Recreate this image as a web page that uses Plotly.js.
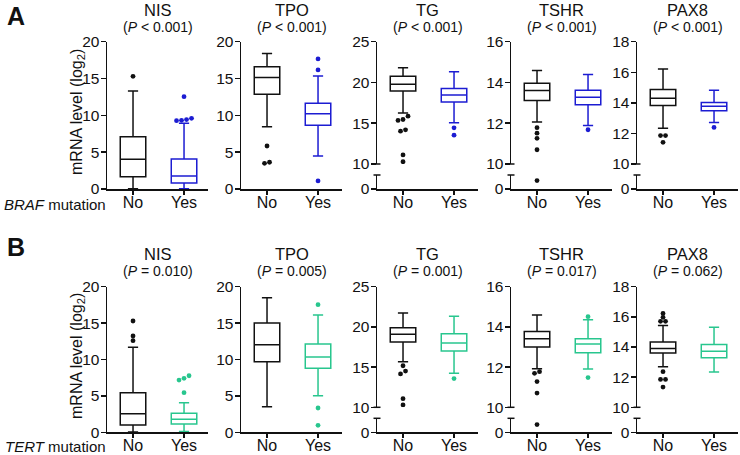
<!DOCTYPE html>
<html>
<head>
<meta charset="utf-8">
<script src="https://cdn.plot.ly/plotly-3.0.1.min.js"></script>
<style>
  body { margin: 0; background: #fff; }
  #chart { width: 740px; height: 455px; }
</style>
</head>
<body>
<div id="chart"></div>
<script>
const genes = ["NIS", "TPO", "TG", "TSHR", "PAX8"];
const groups = ["No", "Yes"];
const rowLetters = ["A", "B"];
const mutations = ["BRAF", "TERT"];

const brafP = ["(<i>P</i> &lt; 0.001)", "(<i>P</i> &lt; 0.001)", "(<i>P</i> &lt; 0.001)", "(<i>P</i> &lt; 0.001)", "(<i>P</i> &lt; 0.001)"];
const tertP = ["(<i>P</i> = 0.010)", "(<i>P</i> = 0.005)", "(<i>P</i> = 0.001)", "(<i>P</i> = 0.017)", "(<i>P</i> = 0.062)"];

// y axis per gene (upper part for broken axes)
const yMin = [0, 0, 10, 10, 10];
const yMax = [20, 20, 25, 16, 18];
const yStep = [5, 5, 5, 2, 2];
const broken = [false, false, true, true, true];

// box stats, [No, Yes] for each gene
const brafLow = [[0.05, 0.05], [8.46, 4.48], [16.24, 15.05], [12.06, 11.89], [12.34, 12.72]];
const brafQ1 = [[1.67, 0.81], [12.85, 8.65], [18.95, 17.6], [13.12, 12.91], [13.82, 13.49]];
const brafMed = [[4.03, 1.76], [15.15, 10.23], [19.78, 18.46], [13.6, 13.27], [14.3, 13.77]];
const brafQ3 = [[7.1, 4.07], [16.6, 11.64], [20.76, 19.25], [13.96, 13.62], [14.87, 14.03]];
const brafHigh = [[13.3, 8.93], [18.4, 15.35], [21.79, 21.3], [14.59, 14.39], [16.22, 14.82]];
const brafOutNo = [[15.3], [5.84, 3.63, 3.49], [15.87, 15.46, 15.34, 14.19, 14.02, 11.11, 10.28], [11.78, 11.51, 11.26, 10.7, 6], [11.86, 11.86, 11.42]];
const brafOutYes = [[12.54, 9.6, 9.42, 9.33, 9.28], [17.66, 16.17, 1.09], [14.44, 13.53], [11.68], [12.39]];

const tertLow = [[0.05, 0.1], [3.52, 5.03], [15.66, 14.23], [11.92, 11.9], [12.69, 12.34]];
const tertQ1 = [[1.0, 1.14], [9.7, 8.79], [18.12, 17.01], [13.0, 12.72], [13.6, 13.28]];
const tertMed = [[2.56, 1.79], [12.03, 10.34], [19.1, 18.0], [13.41, 13.15], [13.9, 13.72]];
const tertQ3 = [[5.44, 2.61], [15.01, 12.13], [19.89, 19.15], [13.77, 13.41], [14.33, 14.16]];
const tertHigh = [[11.68, 4.07], [18.49, 16.11], [21.73, 21.32], [14.59, 14.36], [15.42, 15.31]];
const tertOutNo = [[15.29, 13.23, 12.58], [], [15.17, 14.51, 14.15, 11.07, 10.3], [11.77, 11.69, 11.28, 10.71, 5.5], [16.23, 15.97, 15.7, 15.7, 12.36, 11.85, 11.85, 11.34]];
const tertOutYes = [[7.77, 7.42, 7.18, 5.44], [17.53, 3.34, 0.96], [13.57], [14.51, 11.48], []];

const rowData = [
  { low: brafLow, q1: brafQ1, med: brafMed, q3: brafQ3, high: brafHigh, out: [brafOutNo, brafOutYes], p: brafP, color: "#1c1cd2" },
  { low: tertLow, q1: tertQ1, med: tertMed, q3: tertQ3, high: tertHigh, out: [tertOutNo, tertOutYes], p: tertP, color: "#28c68e" }
];

// layout in pixels
const W = 740, H = 455;
const axisX = [107, 241, 377, 511, 637];
const axisLen = 101;
const rowTop = [41.7, 286.7];
const rowZero = [189, 432.3];
const lowSeg = 14, gap = 11;
const xRange = [-0.51, 1.47];
const dotStep = 5 / (axisLen / (xRange[1] - xRange[0]));
const FONT = "Liberation Sans, Arial, sans-serif";
const INK = "#111";

function ref(letter, n) { return n === 1 ? letter : letter + n; }
function axKey(letter, n) { return n === 1 ? letter + "axis" : letter + "axis" + n; }
function py(px) { return 1 - px / H; }

// spread dots that sit at the same level side by side
function dodge(vals, pxPerUnit) {
  const order = vals.map((v, i) => i).sort((a, b) => vals[a] - vals[b]);
  const offs = new Array(vals.length).fill(0);
  let i = 0;
  while (i < order.length) {
    let j = i + 1;
    while (j < order.length && (vals[order[j]] - vals[order[j - 1]]) * pxPerUnit < 3.5) j++;
    const n = j - i;
    for (let m = 0; m < n; m++) offs[order[i + m]] = (m - (n - 1) / 2) * dotStep;
    i = j;
  }
  return offs;
}

function yAxis(domain, range, anchor, tickvals) {
  return {
    domain, range, anchor, tickvals,
    ticks: "outside", ticklen: 5, tickwidth: 1.5, tickcolor: INK,
    ticklabelstandoff: -2,
    showline: true, linewidth: 1.5, linecolor: INK,
    showgrid: false, zeroline: false,
    tickfont: { size: 15.5 }
  };
}

const traces = [];
const layout = {
  width: W, height: H,
  margin: { l: 0, r: 0, t: 0, b: 0 },
  paper_bgcolor: "#fff", plot_bgcolor: "#fff",
  showlegend: false,
  font: { family: FONT, color: INK, size: 15 },
  annotations: [],
  shapes: []
};

let lowerId = 11;
rowData.forEach((rd, r) => {
  genes.forEach((gene, g) => {
    const n = r * 5 + g + 1;
    const top = rowTop[r], zero = rowZero[r];
    const upperBottom = broken[g] ? zero - lowSeg - gap : zero;
    const pxUnit = (upperBottom - top) / (yMax[g] - yMin[g]);
    let lowN = null;

    const ticks = [];
    for (let v = yMin[g]; v <= yMax[g] + 1e-9; v += yStep[g]) ticks.push(v);

    layout[axKey("y", n)] = yAxis([py(upperBottom), py(top)], [yMin[g], yMax[g]], ref("x", n), ticks);

    if (broken[g]) {
      lowN = lowerId++;
      layout[axKey("y", lowN)] = yAxis([py(zero), py(zero - lowSeg)], [0, 10], ref("x", n), [0]);
      // empty trace so the lower segment gets its own subplot
      traces.push({ type: "scatter", mode: "markers", x: [], y: [], xaxis: ref("x", n), yaxis: ref("y", lowN), hoverinfo: "skip" });
      // break caps on the axis
      [zero - lowSeg, upperBottom].forEach(yp => {
        layout.shapes.push({
          type: "line", xref: "paper", yref: "paper",
          x0: (axisX[g] - 3.5) / W, x1: (axisX[g] + 3.5) / W,
          y0: py(yp), y1: py(yp),
          line: { color: INK, width: 1.5 }
        });
      });
    }

    layout[axKey("x", n)] = {
      domain: [axisX[g] / W, (axisX[g] + axisLen) / W],
      range: xRange,
      anchor: ref("y", broken[g] ? lowN : n),
      tickvals: [0, 1],
      ticktext: groups,
      ticks: "outside", ticklen: 4, tickwidth: 1.5, tickcolor: INK,
      ticklabelstandoff: -6,
      showline: true, linewidth: 1.5, linecolor: INK,
      showgrid: false, zeroline: false,
      tickfont: { size: 16 }
    };

    groups.forEach((grp, k) => {
      const color = k === 0 ? INK : rd.color;
      traces.push({
        type: "box",
        x: [k],
        q1: [rd.q1[g][k]], median: [rd.med[g][k]], q3: [rd.q3[g][k]],
        lowerfence: [rd.low[g][k]], upperfence: [rd.high[g][k]],
        width: 0.5, whiskerwidth: 0.4,
        boxpoints: false,
        fillcolor: "rgba(0,0,0,0)",
        line: { color: color, width: 1.5 },
        xaxis: ref("x", n), yaxis: ref("y", n),
        hoverinfo: "skip"
      });

      const outs = rd.out[k][g];
      const up = outs.filter(v => !broken[g] || v >= yMin[g]);
      const lo = outs.filter(v => broken[g] && v < yMin[g]);
      const upOff = dodge(up, pxUnit);
      if (up.length) traces.push({
        type: "scatter", mode: "markers",
        x: up.map((v, i) => k + upOff[i]), y: up,
        marker: { color: color, size: 4.8 },
        xaxis: ref("x", n), yaxis: ref("y", n),
        hoverinfo: "skip"
      });
      if (lo.length) traces.push({
        type: "scatter", mode: "markers",
        x: lo.map(() => k), y: lo,
        marker: { color: color, size: 4.8 },
        xaxis: ref("x", n), yaxis: ref("y", lowN),
        hoverinfo: "skip"
      });
    });

    // gene name and P value above each panel
    const titleY = r === 0 ? 9.5 : 254;
    layout.annotations.push({
      text: gene, xref: ref("x", n) + " domain", x: 0.5, yref: "paper", y: py(titleY),
      xanchor: "center", yanchor: "middle", showarrow: false, font: { size: 16.5 }
    });
    layout.annotations.push({
      text: rd.p[g], xref: ref("x", n) + " domain", x: 0.5, yref: "paper", y: py(titleY + 17),
      xanchor: "center", yanchor: "middle", showarrow: false, font: { size: 14 }
    });
  });

  // row-level labels
  layout.annotations.push({
    text: "mRNA level (log<sub>2</sub>)", textangle: -90,
    xref: "paper", x: 77 / W, yref: "paper", y: py(r === 0 ? 112 : 356),
    xanchor: "center", yanchor: "middle", showarrow: false, font: { size: 16 }
  });
  layout.annotations.push({
    text: "<i>" + mutations[r] + "</i> mutation",
    xref: "paper", x: 108 / W, yref: "paper", y: py(r === 0 ? 205 : 446),
    xanchor: "right", yanchor: "middle", showarrow: false, font: { size: 15 }
  });
  layout.annotations.push({
    text: "<b>" + rowLetters[r] + "</b>",
    xref: "paper", x: 5 / W, yref: "paper", y: py(r === 0 ? 16.5 : 247.5),
    xanchor: "left", yanchor: "middle", showarrow: false, font: { size: 25 }
  });
});

Plotly.newPlot("chart", traces, layout, { staticPlot: true, displayModeBar: false });
</script>
</body>
</html>
